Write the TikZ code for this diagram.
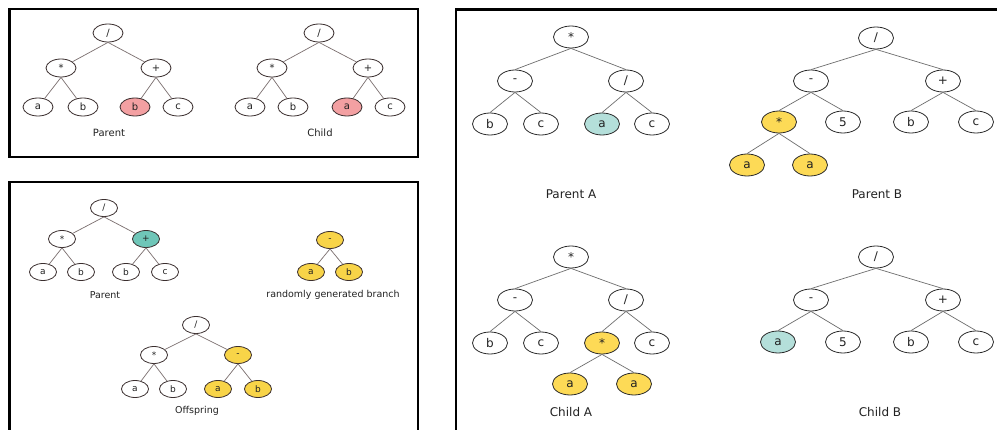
\documentclass[tikz,border=0pt]{standalone}
\usepackage{fontspec}
\setmainfont{DejaVu Sans}
\usetikzlibrary{shapes.geometric}
\definecolor{outA}{HTML}{3A2E2E}
\definecolor{outC}{HTML}{2A2A2A}
\definecolor{edgeA}{HTML}{7A6E6E}
\definecolor{edgeC}{HTML}{6E6E6E}
\definecolor{pinkF}{HTML}{F3A0A2}
\definecolor{tealD}{HTML}{6FC6B8}
\definecolor{tealL}{HTML}{B4DFDA}
\definecolor{yelA}{HTML}{F8D448}
\definecolor{yelC}{HTML}{FDDA56}
\definecolor{txt}{HTML}{222222}
\begin{document}
\begin{tikzpicture}[x=1pt,y=-1pt,
  nA/.style={ellipse,draw=outA,line width=0.8pt,minimum width=30pt,minimum height=18pt,inner sep=0pt,font=\fontsize{10}{12}\selectfont,text=txt},
  nB/.style={ellipse,draw=outA,line width=0.8pt,minimum width=27pt,minimum height=17pt,inner sep=0pt,font=\fontsize{9}{11}\selectfont,text=txt},
  nC/.style={ellipse,draw=outC,line width=0.8pt,minimum width=35pt,minimum height=22pt,inner sep=0pt,font=\fontsize{12}{14}\selectfont,text=txt},
  lblA/.style={font=\fontsize{10}{12}\selectfont,text=txt,inner sep=0pt},
  lblB/.style={font=\fontsize{9.5}{11}\selectfont,text=txt,inner sep=0pt},
  lblC/.style={font=\fontsize{12}{14}\selectfont,text=txt,inner sep=0pt},
  edA/.style={draw=edgeA,line width=0.7pt},
  edC/.style={draw=edgeC,line width=0.7pt},
  frame/.style={draw=black,line width=2.8pt}]
\useasboundingbox (0,0) rectangle (997,430);
\fill[white] (0,0) rectangle (997,430);
% frames
\draw[frame] (9.5,9) rectangle (418,157);
\draw[frame] (9.5,432) -- (9.5,182) -- (418,182) -- (418,432);
\draw[frame] (456,432) -- (456,9.5) -- (999,9.5);

% ---- Box 1: Parent
\node[nA] (p1r) at (108,33) {/};
\node[nA] (p1m) at (61,68) {*};
\node[nA] (p1p) at (156,68) {+};
\node[nA] (p1a) at (38,107) {a};
\node[nA] (p1b) at (83,107) {b};
\node[nA,fill=pinkF] (p1x) at (135,107) {b};
\node[nA] (p1c) at (178,107) {c};
\node[lblA] (p1l) at (109,133) {Parent};
\path[edA] (p1r.south) -- (p1m) (p1r.south) -- (p1p)
  (p1m.south) -- (p1a) (p1m.south) -- (p1b)
  (p1p.south) -- (p1x) (p1p.south) -- (p1c);
% ---- Box 1: Child
\node[nA] (c1r) at (319,33) {/};
\node[nA] (c1m) at (272,68) {*};
\node[nA] (c1p) at (368,68) {+};
\node[nA] (c1a) at (250,107) {a};
\node[nA] (c1b) at (293,107) {b};
\node[nA,fill=pinkF] (c1x) at (347,107) {a};
\node[nA] (c1c) at (390,107) {c};
\node[lblA] (c1l) at (320,133) {Child};
\path[edA] (c1r.south) -- (c1m) (c1r.south) -- (c1p)
  (c1m.south) -- (c1a) (c1m.south) -- (c1b)
  (c1p.south) -- (c1x) (c1p.south) -- (c1c);

% ---- Box 2: Parent
\node[nB] (p2r) at (104,208) {/};
\node[nB] (p2m) at (62,239) {*};
\node[nB,fill=tealD] (p2p) at (146,239) {+};
\node[nB] (p2a) at (43,272) {a};
\node[nB] (p2b) at (81,272) {b};
\node[nB] (p2b2) at (126,272) {b};
\node[nB] (p2c) at (165,272) {c};
\node[lblB] (p2l) at (105,295) {Parent};
\path[edA] (p2r.south) -- (p2m) (p2r.south) -- (p2p)
  (p2m.south) -- (p2a) (p2m.south) -- (p2b)
  (p2p.south) -- (p2b2) (p2p.south) -- (p2c);
% random branch
\node[nB,fill=yelA] (rbr) at (330,240) {-};
\node[nB,fill=yelA] (rba) at (311,272) {a};
\node[nB,fill=yelA] (rbb) at (349,272) {b};
\node[lblB] (rbl) at (333,295) {randomly generated branch};
\path[edA] (rbr.south) -- (rba) (rbr.south) -- (rbb);
% offspring
\node[nB] (o2r) at (196,325) {/};
\node[nB] (o2m) at (154,355) {*};
\node[nB,fill=yelA] (o2n) at (238,355) {-};
\node[nB] (o2a) at (135,389) {a};
\node[nB] (o2b) at (173,389) {b};
\node[nB,fill=yelA] (o2a2) at (218,389) {a};
\node[nB,fill=yelA] (o2b2) at (258,389) {b};
\node[lblB] (o2l) at (197,411) {Offspring};
\path[edA] (o2r.south) -- (o2m) (o2r.south) -- (o2n)
  (o2m.south) -- (o2a) (o2m.south) -- (o2b)
  (o2n.south) -- (o2a2) (o2n.south) -- (o2b2);

% ---- Box 3: Parent A
\node[nC] (pAr) at (571,37) {*};
\node[nC] (pAm) at (515,81) {-};
\node[nC] (pAd) at (626,81) {/};
\node[nC] (pAb) at (490,124) {b};
\node[nC] (pAc) at (541,124) {c};
\node[nC,fill=tealL] (pAa) at (602,124) {a};
\node[nC] (pAc2) at (652,124) {c};
\node[lblC] (pAl) at (571,194) {Parent A};
\path[edC] (pAr.south) -- (pAm.north) (pAr.south) -- (pAd.north)
  (pAm.south) -- (pAb.north) (pAm.south) -- (pAc.north)
  (pAd.south) -- (pAa.north) (pAd.south) -- (pAc2.north);
% Parent B
\node[nC] (pBr) at (876,38) {/};
\node[nC] (pBm) at (811,81) {-};
\node[nC] (pBp) at (943,81) {+};
\node[nC,fill=yelC] (pBs) at (779,122) {*};
\node[nC] (pB5) at (843,122) {5};
\node[nC] (pBb) at (911,122) {b};
\node[nC] (pBc) at (976,122) {c};
\node[nC,fill=yelC] (pBa1) at (747,165) {a};
\node[nC,fill=yelC] (pBa2) at (810,165) {a};
\node[lblC] (pBl) at (877,194) {Parent B};
\path[edC] (pBr.south) -- (pBm.north) (pBr.south) -- (pBp.north)
  (pBm.south) -- (pBs.north) (pBm.south) -- (pB5.north)
  (pBp.south) -- (pBb.north) (pBp.south) -- (pBc.north)
  (pBs.south) -- (pBa1.north) (pBs.south) -- (pBa2.north);
% Child A
\node[nC] (cAr) at (571,257) {*};
\node[nC] (cAm) at (515,300) {-};
\node[nC] (cAd) at (626,300) {/};
\node[nC] (cAb) at (490,343) {b};
\node[nC] (cAc) at (541,343) {c};
\node[nC,fill=yelC] (cAs) at (602,343) {*};
\node[nC] (cAc2) at (652,343) {c};
\node[nC,fill=yelC] (cAa1) at (570,384) {a};
\node[nC,fill=yelC] (cAa2) at (634,384) {a};
\node[lblC] (cAl) at (571,412) {Child A};
\path[edC] (cAr.south) -- (cAm.north) (cAr.south) -- (cAd.north)
  (cAm.south) -- (cAb.north) (cAm.south) -- (cAc.north)
  (cAd.south) -- (cAs.north) (cAd.south) -- (cAc2.north)
  (cAs.south) -- (cAa1.north) (cAs.south) -- (cAa2.north);
% Child B
\node[nC] (cBr) at (876,257) {/};
\node[nC] (cBm) at (811,300) {-};
\node[nC] (cBp) at (943,300) {+};
\node[nC,fill=tealL] (cBa) at (778,342) {a};
\node[nC] (cB5) at (843,342) {5};
\node[nC] (cBb) at (911,342) {b};
\node[nC] (cBc) at (976,342) {c};
\node[lblC] (cBl) at (880,412) {Child B};
\path[edC] (cBr.south) -- (cBm.north) (cBr.south) -- (cBp.north)
  (cBm.south) -- (cBa.north) (cBm.south) -- (cB5.north)
  (cBp.south) -- (cBb.north) (cBp.south) -- (cBc.north);
\end{tikzpicture}
\end{document}
